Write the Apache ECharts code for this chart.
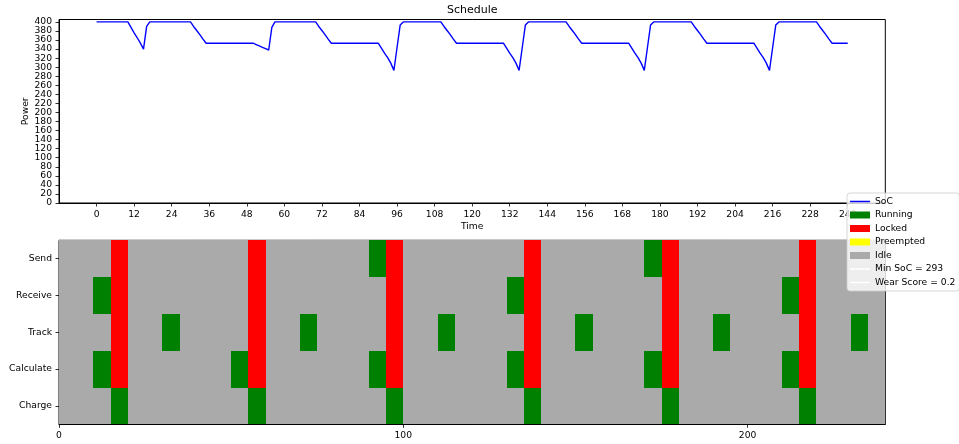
<!DOCTYPE html>
<html>
<head>
<meta charset="utf-8">
<script src="https://cdn.jsdelivr.net/npm/echarts@6/dist/echarts.min.js"></script>
<style>
html,body{margin:0;padding:0;background:#fff;}
#chart{width:959px;height:444px;}
</style>
</head>
<body>
<div id="chart"></div>
<script>
// ---- Data ----
const socValues = [
  400,400,400,400,400,400,400,400,400,400,
  400,388,376,365,353,340,390,400,400,400,
  400,400,400,400,400,400,400,400,400,400,
  400,390,381,372,362,353,353,353,353,353,
  353,353,353,353,353,353,353,353,353,353,
  353,350,347,344,341,338,388,400,400,400,
  400,400,400,400,400,400,400,400,400,400,
  400,390,381,372,362,353,353,353,353,353,
  353,353,353,353,353,353,353,353,353,353,
  353,342,331,321,309,293,343,393,400,400,
  400,400,400,400,400,400,400,400,400,400,
  400,390,381,372,362,353,353,353,353,353,
  353,353,353,353,353,353,353,353,353,353,
  353,342,331,321,309,293,343,393,400,400,
  400,400,400,400,400,400,400,400,400,400,
  400,390,381,372,362,353,353,353,353,353,
  353,353,353,353,353,353,353,353,353,353,
  353,342,331,321,309,293,343,393,400,400,
  400,400,400,400,400,400,400,400,400,400,
  400,390,381,372,362,353,353,353,353,353,
  353,353,353,353,353,353,353,353,353,353,
  353,342,331,321,309,293,343,393,400,400,
  400,400,400,400,400,400,400,400,400,400,
  400,390,381,372,362,353,353,353,353,353,
  353
];
const timeTicks = [0,12,24,36,48,60,72,84,96,108,120,132,144,156,168,180,192,204,216,228,240];
const powerTicks = [0,20,40,60,80,100,120,140,160,180,200,220,240,260,280,300,320,340,360,380,400];
const scheduleTicks = [0,100,200];
const tasks = ['Charge','Calculate','Track','Receive','Send'];
const slotLength = 5;
// I = Idle, R = Running, L = Locked, P = Preempted ; one letter per 5-unit slot
const sendStates      = 'IIILIIII' + 'IIILIIII' + 'IIRLIIII' + 'IIILIIII' + 'IIRLIIII' + 'IIILIIII';
const receiveStates   = 'IIRLIIII' + 'IIILIIII' + 'IIILIIII' + 'IIRLIIII' + 'IIILIIII' + 'IIRLIIII';
const trackStates     = 'IIILIIRI' + 'IIILIIRI' + 'IIILIIRI' + 'IIILIIRI' + 'IIILIIRI' + 'IIILIIRI';
const calculateStates = 'IIRLIIII' + 'IIRLIIII' + 'IIRLIIII' + 'IIRLIIII' + 'IIRLIIII' + 'IIRLIIII';
const chargeStates    = 'IIIRIIII' + 'IIIRIIII' + 'IIIRIIII' + 'IIIRIIII' + 'IIIRIIII' + 'IIIRIIII';
const stateRows = [chargeStates, calculateStates, trackStates, receiveStates, sendStates];
const stateNames = {R:'Running', L:'Locked', P:'Preempted', I:'Idle'};
const stateColors = {R:'#008000', L:'#ff0000', P:'#ffff00', I:'#aaaaaa'};
const minSocLabel = 'Min SoC = 293';
const wearLabel = 'Wear Score = 0.2';

// ---- Build ----
const FONT = 'DejaVu Sans';
const FS = 9.2;
const LINE_ICON = 'path://M0,0h0.01v0.01h-0.01zM0,2.8h20v1.4h-20zM19.99,6.99h0.01v0.01h-0.01z';

function cellsFor(code){
  const out = [];
  stateRows.forEach((row, r) => {
    row.split('').forEach((c, k) => {
      if (c === code) out.push([k*slotLength, (k+1)*slotLength, r]);
    });
  });
  return out;
}
function renderCell(params, api){
  const a = api.coord([api.value(0), api.value(2)]);
  const b = api.coord([api.value(1), api.value(2)]);
  const h = api.size([0,1])[1];
  const x0 = Math.round(a[0]), x1 = Math.round(b[0]);
  const y0 = Math.round(a[1]-h/2), y1 = Math.round(a[1]+h/2);
  return {
    type:'rect',
    shape:{x:x0, y:y0, width:x1-x0, height:y1-y0},
    style:{fill:api.visual('color')}
  };
}
const stateSeries = ['R','L','P','I'].map(code => ({
  type:'custom', name:stateNames[code], xAxisIndex:1, yAxisIndex:1,
  renderItem:renderCell, itemStyle:{color:stateColors[code]},
  encode:{x:[0,1], y:2}, data:cellsFor(code), animation:false, silent:true
}));

const axisCommon = {
  axisLine:{show:true, onZero:false, lineStyle:{color:'#000', width:1}},
  axisTick:{show:true, length:3.5, lineStyle:{color:'#000', width:0.8}},
  splitLine:{show:false},
  axisLabel:{color:'#000', fontFamily:FONT, fontSize:FS, margin:7}
};

const chart = echarts.init(document.getElementById('chart'), null, {renderer:'canvas'});
chart.setOption({
  animation:false,
  backgroundColor:'#ffffff',
  textStyle:{fontFamily:FONT},
  title:{text:'Schedule', left:447, top:5, padding:0,
    textStyle:{fontFamily:FONT, fontSize:11, fontWeight:'normal', color:'#000'}},
  grid:[
    {left:59, top:19.5, width:826.3, height:183.5, show:true, borderColor:'#000', borderWidth:1, backgroundColor:'transparent'},
    {left:59, top:240.3, width:826.3, height:184, show:true, borderColor:'#000', borderWidth:1, backgroundColor:'transparent'}
  ],
  xAxis:[
    Object.assign({}, axisCommon, {
      type:'value', gridIndex:0, min:-12, max:252,
      name:'Time', nameLocation:'middle', nameGap:19, nameMoveOverlap:false,
      nameTextStyle:{fontFamily:FONT, fontSize:FS, color:'#000'},
      axisTick:Object.assign({}, axisCommon.axisTick, {customValues:timeTicks}),
      axisLabel:Object.assign({}, axisCommon.axisLabel, {customValues:timeTicks})
    }),
    Object.assign({}, axisCommon, {
      type:'value', gridIndex:1, min:0, max:240,
      axisTick:Object.assign({}, axisCommon.axisTick, {customValues:scheduleTicks}),
      axisLabel:Object.assign({}, axisCommon.axisLabel, {customValues:scheduleTicks})
    })
  ],
  yAxis:[
    Object.assign({}, axisCommon, {
      type:'value', gridIndex:0, min:0, max:405.35,
      name:'Power', nameLocation:'middle', nameGap:29, nameMoveOverlap:false,
      nameTextStyle:{fontFamily:FONT, fontSize:FS, color:'#000'},
      axisTick:Object.assign({}, axisCommon.axisTick, {customValues:powerTicks}),
      axisLabel:Object.assign({}, axisCommon.axisLabel, {customValues:powerTicks})
    }),
    Object.assign({}, axisCommon, {
      type:'category', gridIndex:1, data:tasks, boundaryGap:true,
      axisTick:Object.assign({}, axisCommon.axisTick, {alignWithLabel:true})
    })
  ],
  legend:{
    orient:'vertical', left:847, top:193,
    padding:[3,4,3,3], itemGap:2.5, itemWidth:20, itemHeight:7,
    backgroundColor:'rgba(255,255,255,0.8)', borderColor:'rgba(204,204,204,0.8)', borderWidth:1, borderRadius:3,
    textStyle:{fontFamily:FONT, fontSize:FS, color:'#000', lineHeight:11},
    selectedMode:false,
    data:[
      {name:'SoC', icon:LINE_ICON},
      {name:'Running', icon:'rect'},
      {name:'Locked', icon:'rect'},
      {name:'Preempted', icon:'rect'},
      {name:'Idle', icon:'rect'},
      {name:minSocLabel, icon:LINE_ICON},
      {name:wearLabel, icon:LINE_ICON}
    ]
  },
  series:[
    {type:'line', name:'SoC', xAxisIndex:0, yAxisIndex:0, symbol:'none', showSymbol:false,
     lineStyle:{color:'#0000ff', width:1.4}, itemStyle:{color:'#0000ff'},
     data:socValues.map((v,i)=>[i,v])},
  ].concat(stateSeries).concat([
    {type:'line', name:minSocLabel, xAxisIndex:0, yAxisIndex:0, symbol:'none', data:[],
     lineStyle:{color:'#ffffff', width:1.4}, itemStyle:{color:'#ffffff'}},
    {type:'line', name:wearLabel, xAxisIndex:0, yAxisIndex:0, symbol:'none', data:[],
     lineStyle:{color:'#ffffff', width:1.4}, itemStyle:{color:'#ffffff'}}
  ])
});
</script>
</body>
</html>
